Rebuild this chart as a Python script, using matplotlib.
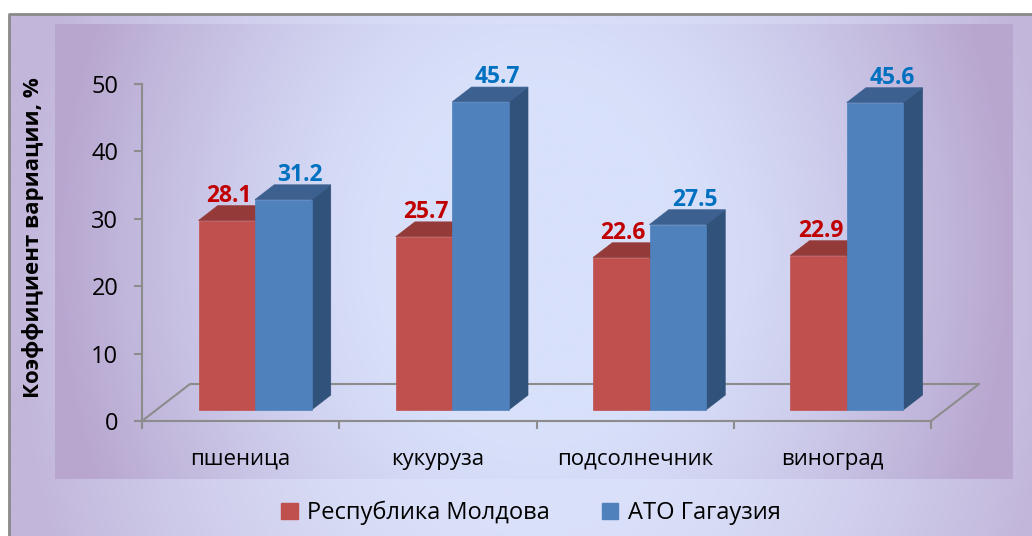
import matplotlib
matplotlib.use('Agg')
import matplotlib.pyplot as plt
from matplotlib.patches import Polygon, Patch
from matplotlib.colors import to_rgb
import numpy as np

plt.rcParams['font.family'] = ['Open Sans', 'DejaVu Sans']

# данные
categories = ['пшеница', 'кукуруза', 'подсолнечник', 'виноград']
series_names = ['Республика Молдова', 'АТО Гагаузия']
moldova = [28.1, 25.7, 22.6, 22.9]
gagauzia = [31.2, 45.7, 27.5, 45.6]
y_ticks = [0, 10, 20, 30, 40, 50]

# стиль
front_colors = ['#C0504D', '#4F81BD']
top_colors = ['#943B3A', '#3C6190']
side_colors = ['#7A2E2C', '#31527A']
label_colors = ['#C00000', '#0070C0']
grid_gray = '#8C8C8C'

W, H, DPI = 1032, 536, 100

# 3D-геометрия в единицах данных
PX_CAT = 197.25
PX_UNIT = 6.74
DX = 48 / PX_CAT     # полная глубина по x
DY = 37 / PX_UNIT    # полная глубина по y
F = 0.3              # положение передней грани
D = 0.4              # глубина столбца
BW = 56.5 / PX_CAT   # ширина столбца


def gradient(h, w, blue, purple, start=0.3, power=1.4):
    u = np.linspace(-1, 1, w)
    v = np.linspace(-1, 1, h)
    U, V = np.meshgrid(u, v)
    r = np.sqrt(U ** 2 + 0.15 * V ** 2)
    t = np.clip((r - start) / (1 - start), 0, 1) ** power
    b = np.array(to_rgb(blue))
    p = np.array(to_rgb(purple))
    return b[None, None, :] * (1 - t[..., None]) + p[None, None, :] * t[..., None]


fig = plt.figure(figsize=(W / DPI, H / DPI), dpi=DPI)
fig.patch.set_facecolor('white')

bg = fig.add_axes([0, 0, 1, 1])
bg.set_xlim(0, W)
bg.set_ylim(H, 0)
bg.axis('off')
bg.imshow(gradient(200, 400, '#DAE0F9', '#C2B6DA', 0.35, 1.3),
          extent=(9, W + 30, H + 30, 14), aspect='auto', zorder=0)
bg.imshow(gradient(200, 400, '#D8E0FA', '#B8A6CF', 0.3, 1.4),
          extent=(55, 1013, 479, 24), aspect='auto', zorder=1)
bg.plot([9, 9, W + 5], [H + 5, 14, 14], color='#8A8A8A', lw=2, zorder=2)

left, right, top, bottom = 142, 980, 84, 421
ax = fig.add_axes([left / W, (H - bottom) / H, (right - left) / W, (bottom - top) / H])
ax.patch.set_visible(False)
ax.set_xlim(-0.5, -0.5 + (right - left) / PX_CAT)
ax.set_ylim(0, 50)

for s in ['top', 'right']:
    ax.spines[s].set_visible(False)
for s in ['left', 'bottom']:
    ax.spines[s].set_color(grid_gray)
    ax.spines[s].set_linewidth(1.5)
ax.spines['left'].set_bounds(0, 50)
ax.spines['bottom'].set_bounds(-0.5, len(categories) - 0.5)

ax.set_yticks(y_ticks)
ax.tick_params(axis='y', length=6, width=1.5, color=grid_gray, pad=11, labelsize=17)
ax.set_xticks(range(len(categories)))
ax.set_xticklabels(categories)
ax.set_xticks(np.arange(-0.5, len(categories)), minor=True)
ax.tick_params(axis='x', which='major', length=0, pad=20, labelsize=16)
ax.tick_params(axis='x', which='minor', length=6, width=1.5, color=grid_gray)

# пол
n = len(categories)
ax.plot([-0.5, -0.5 + DX, n - 0.5 + DX, n - 0.5], [0, DY, DY, 0],
        color=grid_gray, lw=1.5, clip_on=False, zorder=1)

x = np.arange(n)
for s, vals in enumerate([moldova, gagauzia]):
    z = 3 + s * 3
    x0 = x + F * DX - BW + s * BW
    y0 = F * DY
    for xi, v in zip(x0, vals):
        x1 = xi + BW
        y1 = y0 + v
        side = [(x1, y0), (x1 + D * DX, y0 + D * DY), (x1 + D * DX, y1 + D * DY), (x1, y1)]
        topf = [(xi, y1), (x1, y1), (x1 + D * DX, y1 + D * DY), (xi + D * DX, y1 + D * DY)]
        ax.add_patch(Polygon(side, closed=True, facecolor=side_colors[s],
                             edgecolor=side_colors[s], lw=0.5, zorder=z, clip_on=False))
        ax.add_patch(Polygon(topf, closed=True, facecolor=top_colors[s],
                             edgecolor=top_colors[s], lw=0.5, zorder=z + 1, clip_on=False))
        off = 0.01 if s == 0 else 0.086
        ax.annotate(f'{v:.1f}', xy=(xi + BW / 2 + off, y1 + D * DY), xytext=(0, 3),
                    textcoords='offset points', ha='center', va='baseline',
                    fontsize=16.5, fontweight='bold', color=label_colors[s],
                    zorder=10, annotation_clip=False)
    ax.bar(x0, vals, width=BW, bottom=y0, align='edge', color=front_colors[s],
           edgecolor=front_colors[s], lw=0.5, zorder=z + 2, clip_on=False)

fig.text(33 / W, 1 - 238 / H, 'Коэффициент вариации, %', rotation=90,
         ha='center', va='center', fontsize=16, fontweight='bold')

handles = [Patch(facecolor=c, edgecolor=c) for c in front_colors]
fig.legend(handles, series_names, loc='center', bbox_to_anchor=(531 / W, 1 - 513 / H),
           ncol=2, frameon=False, fontsize=17, handlelength=0.7, handleheight=0.7,
           handletextpad=0.4, columnspacing=2.2)

fig.savefig('out.png', dpi=DPI)
